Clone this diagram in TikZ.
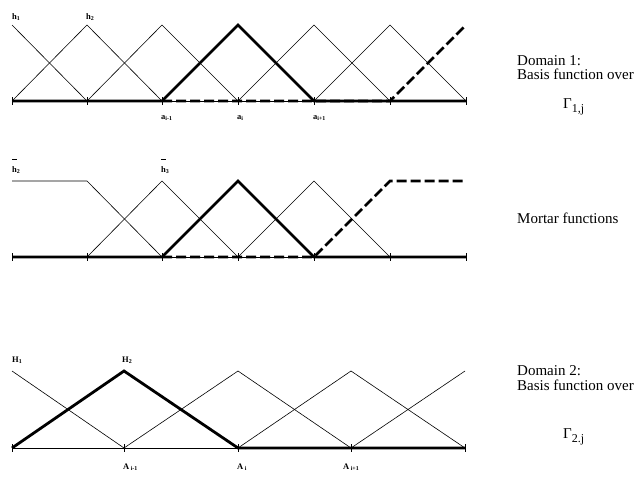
\documentclass[tikz,border=0pt]{standalone}
\usepackage{fontspec}
\setmainfont{Liberation Serif}
\usepackage{tikz}

\newcommand{\barh}{\rlap{\raisebox{13pt}{\rule{5pt}{0.6pt}}}h}

\begin{document}
\begin{tikzpicture}[x=1pt,y=-1pt,
		fn/.style={line width=0.6pt},
		bold/.style={line width=2.8pt},
		bolddash/.style={line width=2.8pt, dash pattern=on 10pt off 4pt},
		lbl/.style={font=\fontsize{8.5}{8.5}\selectfont\bfseries, inner sep=0pt, anchor=west},
		txt/.style={font=\fontsize{15}{15}\selectfont, inner sep=0pt, anchor=base west}]
	\useasboundingbox (0,0) rectangle (635,482);

			% domain 1
			\draw[fn] (12,101) -- (466,101);
			\draw[fn] (12,25) -- (87,101);
			\draw[fn] (12,101) -- (87,25) -- (162,101);
			\draw[fn] (87,101) -- (162,25) -- (238,101);
			\draw[fn] (238,101) -- (314,25) -- (390,101);
			\draw[fn] (314,101) -- (390,25) -- (466,101);
			\draw[bold] (12,101) -- (162,101) -- (238,25) -- (314,101) -- (466,101);
			\draw[bolddash] (162,101) -- (390,101) -- (466,25);
			\foreach \x in {12,87,162,238,314,390,466}
				\draw[fn] (\x,97) -- (\x,105);

			\node[lbl] (h1) at (12,17) {h\textsubscript{1}};
			\node[lbl] (h2) at (86,17) {h\textsubscript{2}};
			\node[lbl] (a1) at (161,118) {a\textsubscript{i-1}};
			\node[lbl] (a2) at (237,118) {a\textsubscript{i}};
			\node[lbl] (a3) at (313,118) {a\textsubscript{i+1}};

			% mortar
			\draw[fn] (12,257) -- (466,257);
			\draw[fn] (12,181) -- (87,181) -- (162,257);
			\draw[fn] (87,257) -- (162,181) -- (238,257);
			\draw[fn] (238,257) -- (314,181) -- (390,257);
			\draw[bold] (12,257) -- (162,257) -- (238,181) -- (314,257) -- (466,257);
			\draw[bolddash] (162,257) -- (314,257) -- (390,181) -- (466,181);
			\foreach \x in {12,87,162,238,314,390,466}
				\draw[fn] (\x,253) -- (\x,261);

			\node[lbl] (hb2) at (12,166) {\barh\textsubscript{2}};
			\node[lbl] (hb3) at (161,166) {\barh\textsubscript{3}};

			% domain 2
			\draw[fn] (12,448) -- (465,448);
			\draw[fn] (12,371) -- (124,448);
			\draw[fn] (124,448) -- (238,371) -- (351,448);
			\draw[fn] (238,448) -- (351,371) -- (465,448);
			\draw[fn] (351,448) -- (465,371);
			\draw[bold] (12,448) -- (124,371) -- (238,448) -- (465,448);
			\foreach \x in {12,124,238,351,465}
				\draw[fn] (\x,444) -- (\x,452);

			\node[lbl] (H1) at (12,360) {H\textsubscript{1}};
			\node[lbl] (H2) at (122,360) {H\textsubscript{2}};
			\node[lbl] (A1) at (123,467) {A\textsubscript{ i-1}};
			\node[lbl] (A2) at (237,467) {A\textsubscript{ i}};
			\node[lbl] (A3) at (343,467) {A\textsubscript{ i+1}};

			% text
			\node[txt] (dom1) at (517,65) {Domain 1:};
			\node[txt] (bas1) at (517,79) {Basis function over};
			\node[txt] (gam1) at (563,108) {Γ\raisebox{-4pt}{\fontsize{12}{12}\selectfont 1,j}};
			\node[txt] (mort) at (517,223) {Mortar functions};
			\node[txt] (dom2) at (517,375) {Domain 2:};
			\node[txt] (bas2) at (517,390) {Basis function over};
			\node[txt] (gam2) at (563,438) {Γ\raisebox{-4pt}{\fontsize{12}{12}\selectfont 2.j}};

\end{tikzpicture}
\end{document}
